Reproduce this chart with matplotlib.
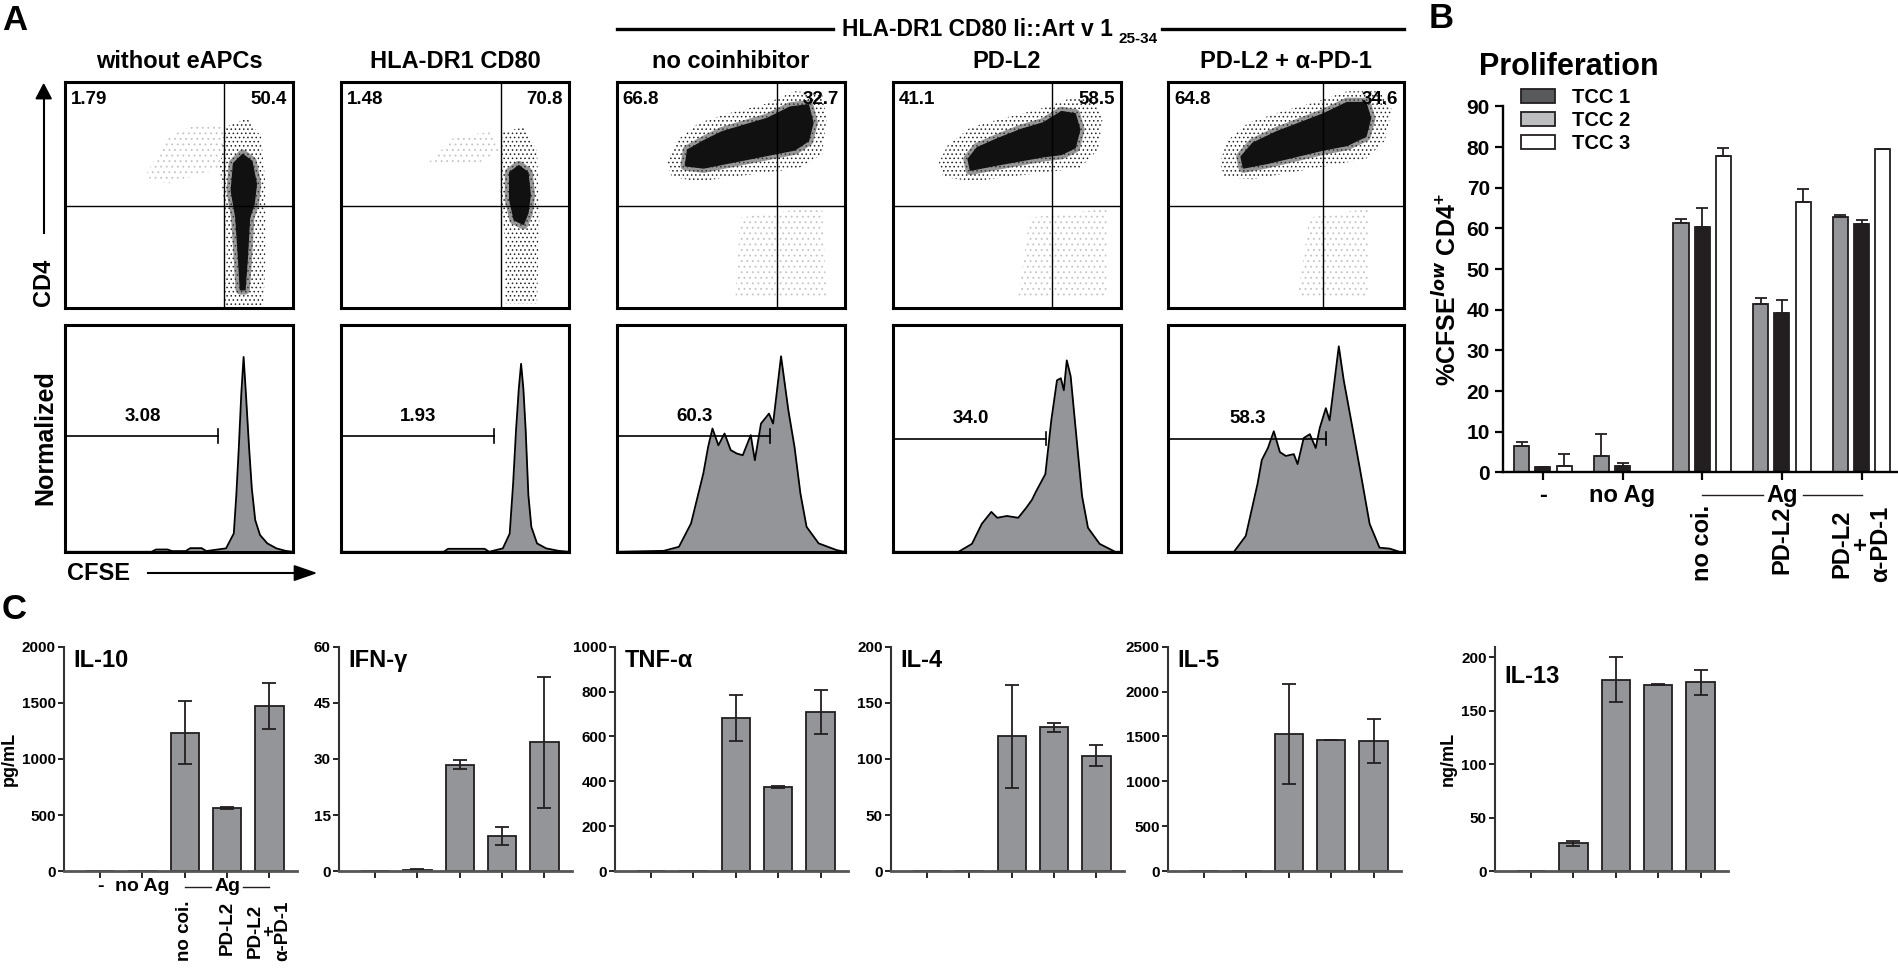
import matplotlib
matplotlib.use("Agg")
import matplotlib.pyplot as plt
import matplotlib.transforms as mtransforms
from matplotlib.patches import Polygon, Patch
from matplotlib.lines import Line2D
import numpy as np

plt.rcParams['font.family'] = ['Liberation Sans', 'DejaVu Sans']
plt.rcParams['font.weight'] = 'bold'
plt.rcParams['axes.labelweight'] = 'bold'
plt.rcParams['axes.linewidth'] = 1.5
plt.rcParams['hatch.linewidth'] = 0.6
plt.rcParams['mathtext.fontset'] = 'custom'
plt.rcParams['mathtext.rm'] = 'Liberation Sans:bold'
plt.rcParams['mathtext.bf'] = 'Liberation Sans:bold'

# ---------------- panel A data ----------------
col_titles = ['without eAPCs', 'HLA-DR1 CD80', 'no coinhibitor', 'PD-L2', 'PD-L2 + α-PD-1']
q_left = ['1.79', '1.48', '66.8', '41.1', '64.8']
q_right = ['50.4', '70.8', '32.7', '58.5', '34.6']
q_vline = [70, 70, 70, 70, 66]
q_hline = 45

# dense cores / stippled halos / sparse areas of the dot plots (axis units 0-100)
dot_core = [
    [(74, 64), (78, 68), (82, 65), (84, 55), (83, 46), (81, 40), (80, 22), (79, 8), (77, 8), (76, 25), (75, 40), (73, 52)],
    [(74, 60), (78, 63), (82, 60), (83, 50), (82, 42), (80, 37), (76, 39), (74, 48)],
    [(30, 63), (38, 62), (48, 64), (58, 66), (68, 68), (78, 70), (84, 74), (86, 82), (84, 90), (76, 89), (66, 84), (56, 81), (46, 78), (38, 74), (31, 70)],
    [(34, 61), (44, 63), (55, 65), (66, 67), (74, 68), (80, 71), (82, 79), (80, 86), (74, 87), (66, 82), (56, 79), (46, 75), (37, 71), (33, 66)],
    [(32, 62), (42, 64), (54, 67), (66, 70), (76, 72), (84, 76), (86, 84), (84, 91), (76, 91), (66, 86), (56, 82), (46, 78), (36, 73), (31, 67)],
]
dot_halo = [
    [(70, 80), (80, 84), (86, 76), (88, 55), (88, 20), (87, 1), (70, 1), (71, 25), (70, 45), (68, 62)],
    [(71, 78), (80, 80), (86, 70), (87, 40), (86, 2), (72, 2), (72, 30), (70, 50)],
    [(24, 58), (36, 56), (50, 58), (66, 60), (80, 62), (90, 68), (92, 84), (90, 95), (78, 96), (64, 90), (48, 86), (36, 82), (26, 74), (22, 64)],
    [(22, 58), (35, 56), (50, 58), (66, 60), (82, 62), (90, 70), (92, 84), (88, 92), (78, 93), (64, 88), (48, 84), (34, 80), (24, 72), (20, 64)],
    [(24, 58), (36, 57), (52, 60), (68, 63), (84, 66), (92, 74), (95, 88), (90, 96), (76, 96), (62, 91), (48, 87), (34, 82), (25, 74), (22, 64)],
]
dot_sparse = [
    [(35, 58), (45, 76), (60, 82), (70, 80), (68, 62), (55, 58), (45, 55)],
    [(38, 64), (50, 76), (66, 78), (70, 70), (60, 64)],
    [(52, 5), (54, 40), (90, 45), (92, 5)],
    [(55, 5), (60, 40), (94, 44), (94, 5)],
    [(55, 5), (60, 40), (85, 44), (85, 5)],
]

# CFSE histograms (x 0-100, normalized count 0-100)
hist_x = [
    [0, 20, 38, 40, 45, 47, 53, 55, 60, 62, 70.7, 74.1, 75.2, 76.3, 77.4, 78.4, 79.4, 80.8, 82, 83.5, 85.6, 88.8, 92.8, 96.8, 100],
    [0, 30, 45, 47, 63, 65, 71, 74, 75.5, 76.8, 78, 79, 80, 81, 82.2, 83.5, 86, 90, 95.5, 100],
    [0, 20.5, 27.2, 32.5, 37.9, 40, 41.9, 44.5, 47.2, 49.9, 52.5, 55.2, 58.7, 60.5, 63.2, 66.7, 68.5, 72, 75.2, 77.9, 80.5, 83.2, 88.5, 96.5, 100],
    [0, 28.8, 34.7, 39, 43.2, 45.8, 50, 55, 58.5, 61, 62.7, 66.9, 69.5, 72, 73.7, 75, 76.3, 78, 80.5, 83, 85.6, 90.7, 97.5, 100],
    [0, 28, 33, 38, 39.8, 42.4, 44.9, 47.5, 50, 53.4, 55, 57.6, 60.2, 62.7, 64.4, 67, 68.6, 70.3, 72.5, 74.6, 77.1, 81.4, 85.6, 89.8, 94, 98.3, 100],
]
hist_y = [
    [0, 0, 0, 1, 1, 0.3, 0.3, 1.6, 1.6, 0.3, 1.5, 8.1, 25, 46, 70, 86, 70, 46, 28, 14, 7.4, 3.7, 1.5, 0.4, 0],
    [0, 0, 0, 1.3, 1.3, 0, 1.5, 8, 30, 54, 72, 83, 72, 54, 25, 11, 3.7, 1.5, 0.4, 0],
    [0, 0.4, 2.2, 12.5, 34.6, 46.3, 54.4, 47, 52.2, 44.9, 43.4, 42.6, 51.5, 40.4, 56.6, 61, 56.6, 86.3, 62.5, 46.3, 25.7, 11, 3.7, 0.7, 0],
    [0, 0, 3.5, 12.3, 17.6, 15, 15.8, 15, 19.4, 22.9, 26.4, 34.3, 58, 75.7, 76.6, 71.3, 84.5, 77.5, 51, 24.6, 10.6, 3.5, 0, 0],
    [0, 0, 7, 30, 40.5, 45.8, 53.2, 44, 42.3, 43.1, 38.7, 50.2, 51.9, 45.8, 54.6, 63.4, 58, 72.2, 90.7, 75.7, 61.6, 37, 12.3, 1.8, 1.4, 0, 0],
]
gate_end = [67, 67, 67.2, 67, 67]
gate_y = [51, 51, 51, 50, 50]
gate_lbl = ['3.08', '1.93', '60.3', '34.0', '58.3']

# ---------------- panel B data ----------------
b_groups = ['-', 'no Ag', 'no coi.', 'PD-L2', 'PD-L2\n+\nα-PD-1']
b_grey = [6.4, 4.0, 61.4, 41.3, 62.9]
b_grey_err = [1.0, 5.5, 1.0, 1.6, 0.5]
b_black = [1.3, 1.5, 60.4, 39.3, 61.0]
b_black_err = [0.0, 0.9, 4.7, 3.1, 1.2]
b_white = [1.5, 0.2, 77.9, 66.6, 79.6]
b_white_err = [2.9, 0.0, 2.0, 3.0, 0.0]
b_legend = ['TCC 1', 'TCC 2', 'TCC 3']

# ---------------- panel C data ----------------
c_titles = ['IL-10', 'IFN-γ', 'TNF-α', 'IL-4', 'IL-5', 'IL-13']
c_conds = ['-', 'no Ag', 'no coi.', 'PD-L2', 'PD-L2\n+\nα-PD-1']
il10 = [0, 0, 1235, 565, 1473]
il10_err = [0, 0, 280, 10, 205]
ifng = [0, 0.3, 28.5, 9.5, 34.4]
ifng_err = [0, 0.3, 1.1, 2.4, 17.5]
tnfa = [0, 2, 683, 376, 710]
tnfa_err = [0, 1, 102, 5, 99]
il4 = [0, 0.2, 120, 128, 103]
il4_err = [0, 0, 46, 4, 9]
il5 = [0, 5, 1529, 1466, 1447]
il5_err = [0, 0, 558, 0, 242]
il13 = [0, 26.3, 179, 174.3, 176.5]
il13_err = [0, 2.3, 21, 0.3, 12]
c_vals = [il10, ifng, tnfa, il4, il5, il13]
c_errs = [il10_err, ifng_err, tnfa_err, il4_err, il5_err, il13_err]
c_ymax = [2000, 60, 1000, 200, 2500, 210]
c_ystep = [500, 15, 200, 50, 500, 50]
c_ytop = [2000, 60, 1000, 200, 2500, 200]

GREY = '#939598'
DARK = '#231f20'

fig = plt.figure(figsize=(18.99, 9.68), dpi=100)
renderer = fig.canvas.get_renderer()
to_fig = fig.transFigure.inverted()

# ---------------- panel A ----------------
box_left = [0.0342, 0.1796, 0.3249, 0.4702, 0.6151]
box_w = [0.120, 0.120, 0.120, 0.120, 0.124]
for i in range(5):
    ax = fig.add_axes([box_left[i], 0.682, box_w[i], 0.233])
    ax.set_xlim(0, 100)
    ax.set_ylim(0, 100)
    ax.set_xticks([])
    ax.set_yticks([])
    for s in ax.spines.values():
        s.set_linewidth(2.2)
    ax.add_patch(Polygon(dot_sparse[i], closed=True, facecolor='none', edgecolor='#c4c4c4',
                         hatch='...', linewidth=0, zorder=1))
    ax.add_patch(Polygon(dot_halo[i], closed=True, facecolor='none', edgecolor='#222222',
                         hatch='....', linewidth=0, zorder=2))
    ax.add_patch(Polygon(dot_core[i], closed=True, facecolor='none', edgecolor='#444444',
                         linewidth=7, alpha=0.55, joinstyle='round', zorder=3))
    ax.add_patch(Polygon(dot_core[i], closed=True, facecolor='#111111', edgecolor='#111111',
                         linewidth=1.0, zorder=3))
    ax.axvline(q_vline[i], color='black', lw=1.0, zorder=4)
    ax.axhline(q_hline, color='black', lw=1.0, zorder=4)
    ax.text(2.5, 96, q_left[i], ha='left', va='top', fontsize=13.5, zorder=5)
    ax.text(97.5, 96, q_right[i], ha='right', va='top', fontsize=13.5, zorder=5)
    fig.text(box_left[i] + box_w[i] / 2, 0.936, col_titles[i], ha='center', va='center', fontsize=17)

    hx = fig.add_axes([box_left[i], 0.430, box_w[i], 0.234])
    hx.set_xlim(0, 100)
    hx.set_ylim(0, 100)
    hx.set_xticks([])
    hx.set_yticks([])
    for s in hx.spines.values():
        s.set_linewidth(2.2)
    hx.fill_between(hist_x[i], hist_y[i], 0, color=GREY, lw=0)
    hx.plot(hist_x[i], hist_y[i], color='black', lw=1.3)
    hx.plot([0, gate_end[i]], [gate_y[i], gate_y[i]], color='black', lw=1.2)
    hx.plot([gate_end[i], gate_end[i]], [gate_y[i] - 3, gate_y[i] + 3], color='black', lw=1.2)
    hx.text(34, gate_y[i] + 5, gate_lbl[i], ha='center', va='bottom', fontsize=13.5)

# header over the antigen-loaded columns, subscript placed after the measured main text
box5_right = box_left[4] + box_w[4]
t_main = fig.text(0.4434, 0.970, 'HLA-DR1 CD80 Ii::Art v 1', ha='left', va='center', fontsize=16.5)
bb = t_main.get_window_extent(renderer)
mx1, my0 = to_fig.transform((bb.x1, bb.y0))
t_sub = fig.text(mx1 + 0.003, my0 + 0.002, '25-34', ha='left', va='center', fontsize=11)
bb2 = t_sub.get_window_extent(renderer)
sx1 = to_fig.transform((bb2.x1, bb2.y0))[0]
fig.add_artist(Line2D([box_left[2], 0.4385], [0.970, 0.970], color='black', lw=2.4))
fig.add_artist(Line2D([sx1 + 0.002, box5_right], [0.970, 0.970], color='black', lw=2.4))

fig.text(0.0075, 0.979, 'A', ha='center', va='center', fontsize=25)
fig.add_artist(Line2D([0.023, 0.023], [0.759, 0.905], color='black', lw=1.5))
fig.add_artist(Polygon([(0.019, 0.898), (0.027, 0.898), (0.023, 0.913)], closed=True,
                       transform=fig.transFigure, color='black'))
fig.text(0.023, 0.708, 'CD4', rotation=90, ha='center', va='center', fontsize=17)
fig.text(0.024, 0.548, 'Normalized', rotation=90, ha='center', va='center', fontsize=18)
fig.text(0.0355, 0.408, 'CFSE', ha='left', va='center', fontsize=17)
fig.add_artist(Line2D([0.078, 0.158], [0.408, 0.408], color='black', lw=1.5))
fig.add_artist(Polygon([(0.155, 0.4005), (0.155, 0.4155), (0.166, 0.408)], closed=True,
                       transform=fig.transFigure, color='black'))

# ---------------- panel B ----------------
bx = fig.add_axes([0.7915, 0.512, 0.2085, 0.378])
gx = np.arange(len(b_groups))
bw = 0.19
off = 0.267
ekw = dict(lw=1.3, capthick=1.3, ecolor=DARK)
zeros = [0] * 5
bx.bar(gx - off, b_grey, bw, color=GREY, edgecolor=DARK, lw=1.3,
       yerr=[zeros, b_grey_err], capsize=4, error_kw=ekw)
bx.bar(gx, b_black, bw, color=DARK, edgecolor=DARK, lw=1.3,
       yerr=[zeros, b_black_err], capsize=4, error_kw=ekw)
bx.bar(gx + off, b_white, bw, color='white', edgecolor=DARK, lw=1.3,
       yerr=[zeros, b_white_err], capsize=4, error_kw=ekw)
bx.set_xlim(-0.5, 4.47)
bx.set_ylim(0, 90)
bx.set_yticks(np.arange(0, 91, 10))
bx.set_xticks(gx)
bx.set_xticklabels([])
bx.tick_params(axis='y', labelsize=15, width=1.6, length=6, direction='out')
bx.tick_params(axis='x', width=1.6, length=6, direction='out')
for lab in bx.get_yticklabels():
    lab.set_fontweight('bold')
bx.spines['top'].set_visible(False)
bx.spines['right'].set_visible(False)
bx.spines['left'].set_linewidth(1.7)
bx.spines['bottom'].set_linewidth(1.7)
bx.set_ylabel('%CFSE$^{low}$ CD4$^{+}$', fontsize=18, labelpad=4)

handles = [Patch(facecolor='#58595b', edgecolor=DARK, lw=1.3),
           Patch(facecolor='#bcbec0', edgecolor=DARK, lw=1.3),
           Patch(facecolor='white', edgecolor=DARK, lw=1.3)]
bx.legend(handles, b_legend, loc='upper left', bbox_to_anchor=(0.0, 1.10), frameon=False,
          fontsize=14.5, handlelength=1.7, handleheight=0.75, labelspacing=0.2, handletextpad=0.8)

tb = mtransforms.blended_transform_factory(bx.transData, bx.transAxes)
bx.text(0, -0.062, b_groups[0], transform=tb, ha='center', va='center', fontsize=17)
bx.text(1, -0.062, b_groups[1], transform=tb, ha='center', va='center', fontsize=17)
bx.text(3, -0.062, 'Ag', transform=tb, ha='center', va='center', fontsize=17)
bx.add_line(Line2D([2, 2.76], [-0.062, -0.062], transform=tb, color=DARK, lw=1.0, clip_on=False))
bx.add_line(Line2D([3.26, 4], [-0.062, -0.062], transform=tb, color=DARK, lw=1.0, clip_on=False))
for k in range(2, 5):
    bx.text(k, -0.09, b_groups[k], transform=tb, ha='center', va='top', rotation=90,
            fontsize=17, linespacing=0.8, multialignment='center')
fig.text(0.759, 0.981, 'B', ha='center', va='center', fontsize=25)
fig.text(0.779, 0.931, 'Proliferation', ha='left', va='center', fontsize=22)

# ---------------- panel C ----------------
c_left = [0.0337, 0.1785, 0.3239, 0.4692, 0.6151, 0.7873]
c_w = 0.1227
cx = np.arange(5)
for j in range(6):
    ax = fig.add_axes([c_left[j], 0.100, c_w, 0.232])
    ax.bar(cx, c_vals[j], 0.67, color=GREY, edgecolor=DARK, lw=1.3,
           yerr=c_errs[j], capsize=5, error_kw=dict(lw=1.3, capthick=1.3, ecolor=DARK))
    ax.set_xlim(-0.85, 4.65)
    ax.set_ylim(0, c_ymax[j])
    ax.set_yticks(np.arange(0, c_ytop[j] + 1, c_ystep[j]))
    ax.set_xticks(cx)
    ax.set_xticklabels([])
    ax.tick_params(axis='y', width=1.2, length=4, direction='out', pad=2, labelsize=11)
    ax.tick_params(axis='x', width=1.2, length=5, direction='out')
    for lab in ax.get_yticklabels():
        lab.set_fontweight('bold')
    ax.spines['top'].set_visible(False)
    ax.spines['right'].set_visible(False)
    ax.spines['left'].set_color('#333333')
    ax.spines['bottom'].set_color('#555555')
    ax.spines['bottom'].set_linewidth(2.0)
    ty = 0.92 if j == 5 else 0.99
    ax.text(0.04, ty, c_titles[j], transform=ax.transAxes, ha='left', va='top', fontsize=17)
    if j == 0:
        ax.set_ylabel('pg/mL', fontsize=13, labelpad=3)
        tc = mtransforms.blended_transform_factory(ax.transData, ax.transAxes)
        ax.text(0, -0.07, c_conds[0], transform=tc, ha='center', va='center', fontsize=14)
        ax.text(1, -0.07, c_conds[1], transform=tc, ha='center', va='center', fontsize=14)
        ax.text(3, -0.07, 'Ag', transform=tc, ha='center', va='center', fontsize=14)
        ax.add_line(Line2D([2, 2.62], [-0.07, -0.07], transform=tc, color=DARK, lw=1.0, clip_on=False))
        ax.add_line(Line2D([3.38, 4], [-0.07, -0.07], transform=tc, color=DARK, lw=1.0, clip_on=False))
        for k in range(2, 5):
            ax.text(k, -0.13, c_conds[k], transform=tc, ha='center', va='top', rotation=90,
                    fontsize=13.5, linespacing=0.75, multialignment='center')
    if j == 5:
        ax.set_ylabel('ng/mL', fontsize=13, labelpad=3)
fig.text(0.0075, 0.370, 'C', ha='center', va='center', fontsize=25)

fig.savefig('out.png', dpi=100)
